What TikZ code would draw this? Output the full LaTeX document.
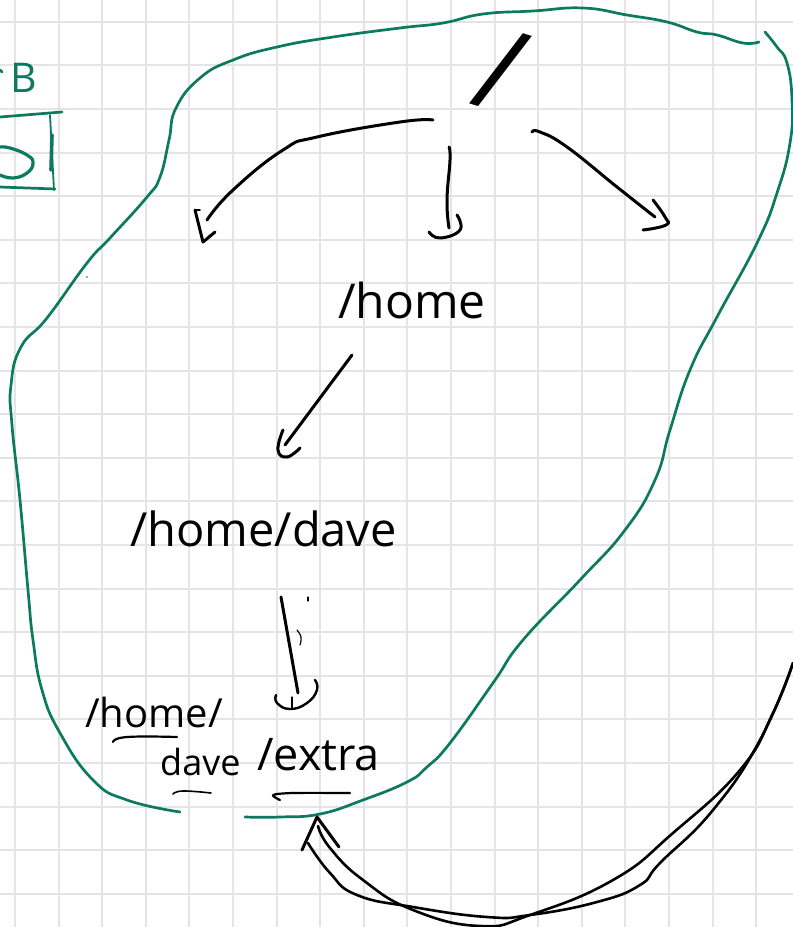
\documentclass[tikz,border=0pt]{standalone}
\usepackage{fontspec}
\setmainfont{Open Sans}
\definecolor{inkgreen}{HTML}{0B7A5E}
\definecolor{gridgrey}{HTML}{E4E4E4}
\tikzset{
  sketch/.style={line width=3pt,line cap=round,line join=round,black},
  hull/.style={line width=2.7pt,line cap=round,line join=round,inkgreen},
  fine/.style={line width=1.2pt,line cap=round,black},
  hand/.style={inner sep=0pt,anchor=base west,black},
  pencil/.style={smooth,tension=0.8}
}
\newcommand{\hw}[1]{\fontsize{#1}{#1}\selectfont}
\begin{document}
\begin{tikzpicture}[x=1pt,y=-1pt]
\useasboundingbox (0,0) rectangle (793,927);
\fill[white] (0,0) rectangle (793,927);
\begin{scope}
\clip (0,0) rectangle (793,927);
% grid
\foreach \i in {0,...,18} {
  \draw[gridgrey,line width=2pt] (15+43.6*\i,0) -- (15+43.6*\i,927);
  \draw[gridgrey,line width=2pt] (0,21.7+43.6*\i) -- (793,21.7+43.6*\i);
}
\draw[gridgrey,line width=2pt] (0,21.7+43.6*19) -- (793,21.7+43.6*19);
\draw[gridgrey,line width=2pt] (0,21.7+43.6*20) -- (793,21.7+43.6*20);

% green enclosure
\draw[hull] plot[pencil] coordinates {(180,812) (127,800) (93,780) (60,733) (42,690) (33,640) (28,590) (20,500) (12,425) (11,385) (21,347) (47,318) (87,263) (110,238) (147,197) (160,177) (169,140) (176,108) (200,78) (233,60) (277,47) (333,37) (400,28) (443,23) (483,14) (533,11) (583,8) (627,15) (667,22) (697,32) (717,35) (743,43) (759,42)};
\draw[hull] plot[pencil] coordinates {(765,32) (777,47) (787,63) (792,100) (790,143) (777,193) (757,243) (717,317) (690,370) (670,430) (655,480) (625,530) (580,580) (523,640) (493,683) (450,743) (427,767) (407,782) (363,800) (320,814) (280,817) (245,817)};
\fill[inkgreen] (87,277) circle (0.8pt);

% top-left fragment
\node[hand,text=inkgreen] (blabel) at (10,92) {\hw{41}B};
\draw[hull] (0,70) -- (2,72);
\draw[hull] (0,117) -- (62,112);
\draw[hull,line width=1.8pt] (50,115) -- (54,190);
\draw[hull] (0,187) -- (55,189);
\draw[hull,line width=3.6pt] (52,135) -- (51,170);
\draw[hull,line width=3.2pt] plot[pencil] coordinates {(0,147) (10,148) (27,155) (33,163) (27,173) (13,178) (0,175)};

% text
\node[inner sep=0pt,black,rotate=-17] (root) at (501,70) {\hw{116}/};
\node[hand] (home) at (338,318) {\hw{48}/home};
\node[hand] (homedave) at (130,546) {\hw{47}/home/dave};
\node[hand] (line1) at (85,727) {\hw{40}/home/};
\node[hand] (line2) at (160,775) {\hw{36}dave};
\node[hand] (extra) at (257,770) {\hw{45}/extra};

% connector ends
\coordinate (a1s) at (433,120);
\coordinate (a1e) at (207,220);
\coordinate (a2s) at (449,147);
\coordinate (a2e) at (449,228);
\coordinate (a3s) at (532,132);
\coordinate (a3e) at (655,217);
\coordinate (a4s) at (352,355);
\coordinate (a4e) at (285,445);
\coordinate (a5s) at (281,597);
\coordinate (a5e) at (298,693);
\coordinate (backs) at (793,663);
\coordinate (backe) at (318,826);

% root arrows
\draw[sketch] plot[pencil] coordinates {(a1s) (400,122) (317,137) (283,150) (233,190) (a1e)};
\draw[sketch] (195,210) -- (203,242) -- (215,232);
\draw[sketch,line width=1.8pt] (195,210) -- (200,210);
\draw[sketch] plot[pencil] coordinates {(a2s) (450,160) (447,200) (a2e)};
\draw[sketch] plot[pencil] coordinates {(457,215) (460,230) (440,238) (429,232)};
\draw[sketch] plot[pencil] coordinates {(a3s) (540,132) (567,147) (617,187) (a3e)};
\draw[sketch] plot[pencil] coordinates {(653,200) (665,217) (666,225) (643,230)};

% /home to /home/dave
\draw[sketch] (a4s) -- (a4e);
\draw[sketch] plot[pencil] coordinates {(283,430) (278,450) (287,457) (300,448)};

% /home/dave to extra
\draw[sketch] (a5s) -- (a5e);
\draw[sketch,line width=2.4pt] plot[pencil] coordinates {(315,680) (317,690) (307,703) (290,709) (277,703) (276,695)};
\draw[fine] (292,697) -- (292,708);
\draw[fine] (308,597) -- (308,601);
\draw[fine] plot[pencil] coordinates {(297,630) (301,637) (300,645)};

% underlines
\draw[sketch,line width=2.2pt] plot[pencil] coordinates {(113,742) (127,737) (177,737)};
\draw[sketch,line width=1.6pt] plot[pencil] coordinates {(173,794) (183,791) (211,793)};
\draw[sketch,line width=2.2pt] plot[smooth,tension=0.5] coordinates {(280,800) (273,795) (293,793) (350,793)};

% return arrow
\draw[sketch,line width=2.6pt] plot[pencil] coordinates {(backs) (773,713) (740,770) (673,833) (613,880) (530,915) (480,926) (413,910) (363,880) (330,848) (backe)};
\draw[sketch,line width=2.6pt] plot[pencil] coordinates {(backs) (760,740) (713,810) (660,863) (640,885) (597,902) (530,915) (487,917) (413,907) (357,895) (330,873) (308,843)};
\draw[sketch] (302,850) -- (317,817) -- (339,847);
\end{scope}
\end{tikzpicture}
\end{document}
